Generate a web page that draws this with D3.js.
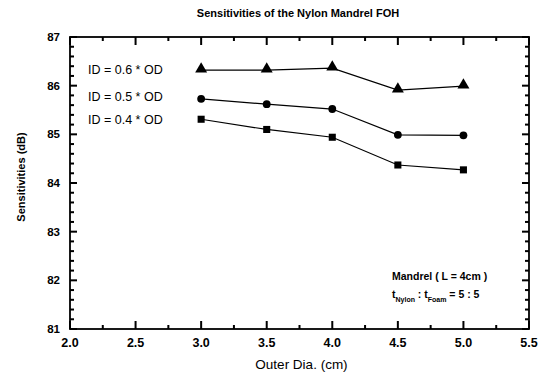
<!DOCTYPE html>
<html>
<head>
<meta charset="utf-8">
<script src="https://cdn.jsdelivr.net/npm/d3@7"></script>
<style>
  body { margin: 0; background: #fff; }
  text { font-family: "Liberation Sans", Arial, sans-serif; fill: #000; }
</style>
</head>
<body>
<script>
var outerDia = [3.0, 3.5, 4.0, 4.5, 5.0];
var id06 = [86.32, 86.32, 86.36, 85.91, 85.99];
var id05 = [85.73, 85.62, 85.52, 84.99, 84.98];
var id04 = [85.31, 85.10, 84.94, 84.37, 84.27];
var seriesNames = ["ID = 0.6 * OD", "ID = 0.5 * OD", "ID = 0.4 * OD"];
var seriesSymbols = ["triangle", "circle", "square"];
var xTicks = [2.0, 2.5, 3.0, 3.5, 4.0, 4.5, 5.0, 5.5];
var yTicks = [81, 82, 83, 84, 85, 86, 87];
var xMinorTicks = [2.25, 2.75, 3.25, 3.75, 4.25, 4.75, 5.25];
var yMinorTicks = [81.2, 81.4, 81.6, 81.8, 82.2, 82.4, 82.6, 82.8, 83.2, 83.4, 83.6, 83.8,
                   84.2, 84.4, 84.6, 84.8, 85.2, 85.4, 85.6, 85.8, 86.2, 86.4, 86.6, 86.8];

var width = 546, height = 375;
var margins = { left: 70, top: 37, right: 17, bottom: 46 };
var plotW = width - margins.left - margins.right;
var plotH = height - margins.top - margins.bottom;

var svg = d3.select('body').append('svg')
    .attr('width', width)
    .attr('height', height);

var x = d3.scaleLinear().domain([2.0, 5.5]).range([0, plotW]);
var y = d3.scaleLinear().domain([81, 87]).range([plotH, 0]);

var g = svg.append('g')
    .attr('transform', 'translate(' + margins.left + ',' + margins.top + ')');

// frame
g.append('rect')
    .attr('width', plotW).attr('height', plotH)
    .attr('fill', 'none').attr('stroke', '#000').attr('stroke-width', 1.8);

// inward ticks on all four sides, as small filled rects
function xTickMarks(vals, len, cls) {
    g.selectAll('.' + cls + 'b').data(vals).enter().append('rect')
        .attr('x', function (d) { return x(d) - 1; })
        .attr('y', plotH - len).attr('width', 2).attr('height', len)
        .attr('fill', '#000');
    g.selectAll('.' + cls + 't').data(vals).enter().append('rect')
        .attr('x', function (d) { return x(d) - 1; })
        .attr('y', 0).attr('width', 2).attr('height', len)
        .attr('fill', '#000');
}
function yTickMarks(vals, len, cls) {
    g.selectAll('.' + cls + 'l').data(vals).enter().append('rect')
        .attr('x', 0).attr('y', function (d) { return y(d) - 1; })
        .attr('width', len).attr('height', 2)
        .attr('fill', '#000');
    g.selectAll('.' + cls + 'r').data(vals).enter().append('rect')
        .attr('x', plotW - len).attr('y', function (d) { return y(d) - 1; })
        .attr('width', len).attr('height', 2)
        .attr('fill', '#000');
}
xTickMarks(xMinorTicks, 4, 'xm');
xTickMarks(xTicks, 8, 'xj');
yTickMarks(yMinorTicks, 4, 'ym');
yTickMarks(yTicks, 7, 'yj');

// tick labels
g.selectAll('.xl').data(xTicks).enter().append('text')
    .attr('x', function (d) { return x(d); })
    .attr('y', plotH + 18)
    .attr('text-anchor', 'middle')
    .attr('font-size', 12.5).attr('font-weight', 'bold')
    .text(function (d) { return d.toFixed(1); });

g.selectAll('.yl').data(yTicks).enter().append('text')
    .attr('x', -10)
    .attr('y', function (d) { return y(d) + 4; })
    .attr('text-anchor', 'end')
    .attr('font-size', 11.5).attr('font-weight', 'bold')
    .text(function (d) { return d; });

// titles
svg.append('text').attr('x', 298).attr('y', 17)
    .attr('text-anchor', 'middle').attr('font-size', 11).attr('font-weight', 'bold')
    .text('Sensitivities of the Nylon Mandrel FOH');
svg.append('text').attr('x', margins.left + plotW / 2 + 2).attr('y', 369)
    .attr('text-anchor', 'middle').attr('font-size', 13.5)
    .text('Outer Dia. (cm)');
svg.append('text')
    .attr('transform', 'translate(25,' + (margins.top + plotH / 2 - 6) + ') rotate(-90)')
    .attr('text-anchor', 'middle').attr('font-size', 11).attr('font-weight', 'bold')
    .text('Sensitivities (dB)');

// series
var allSeries = [id06, id05, id04];
var line = d3.line()
    .x(function (d, i) { return x(outerDia[i]); })
    .y(function (d) { return y(d); });
var symbolTypes = { triangle: d3.symbolTriangle, circle: d3.symbolCircle, square: d3.symbolSquare };
var symbolSizes = { triangle: 62, circle: 48, square: 50 };

allSeries.forEach(function (vals, s) {
    g.append('path').datum(vals)
        .attr('d', line)
        .attr('fill', 'none').attr('stroke', '#000').attr('stroke-width', 1.2);
    g.selectAll('.m' + s).data(vals).enter().append('path')
        .attr('transform', function (d, i) {
            var dy = seriesSymbols[s] === 'triangle' ? -1 : 0;
            return 'translate(' + x(outerDia[i]) + ',' + (y(d) + dy) + ')';
        })
        .attr('d', d3.symbol().type(symbolTypes[seriesSymbols[s]]).size(symbolSizes[seriesSymbols[s]]))
        .attr('fill', '#000');
});

// series labels
var labelY = [74, 101, 124];
seriesNames.forEach(function (name, i) {
    svg.append('text').attr('x', 88).attr('y', labelY[i])
        .attr('font-size', 12.5)
        .text(name);
});

// annotations
svg.append('text').attr('x', 392).attr('y', 280)
    .attr('font-size', 10.5).attr('font-weight', 'bold')
    .text('Mandrel ( L = 4cm )');
var t = svg.append('text').attr('x', 392).attr('y', 298)
    .attr('font-size', 10.5).attr('font-weight', 'bold');
t.append('tspan').text('t');
t.append('tspan').attr('dy', 4).attr('font-size', 7).text('Nylon');
t.append('tspan').attr('dy', -4).text(' : t');
t.append('tspan').attr('dy', 4).attr('font-size', 7).text('Foam');
t.append('tspan').attr('dy', -4).text(' = 5 : 5');
</script>
</body>
</html>
